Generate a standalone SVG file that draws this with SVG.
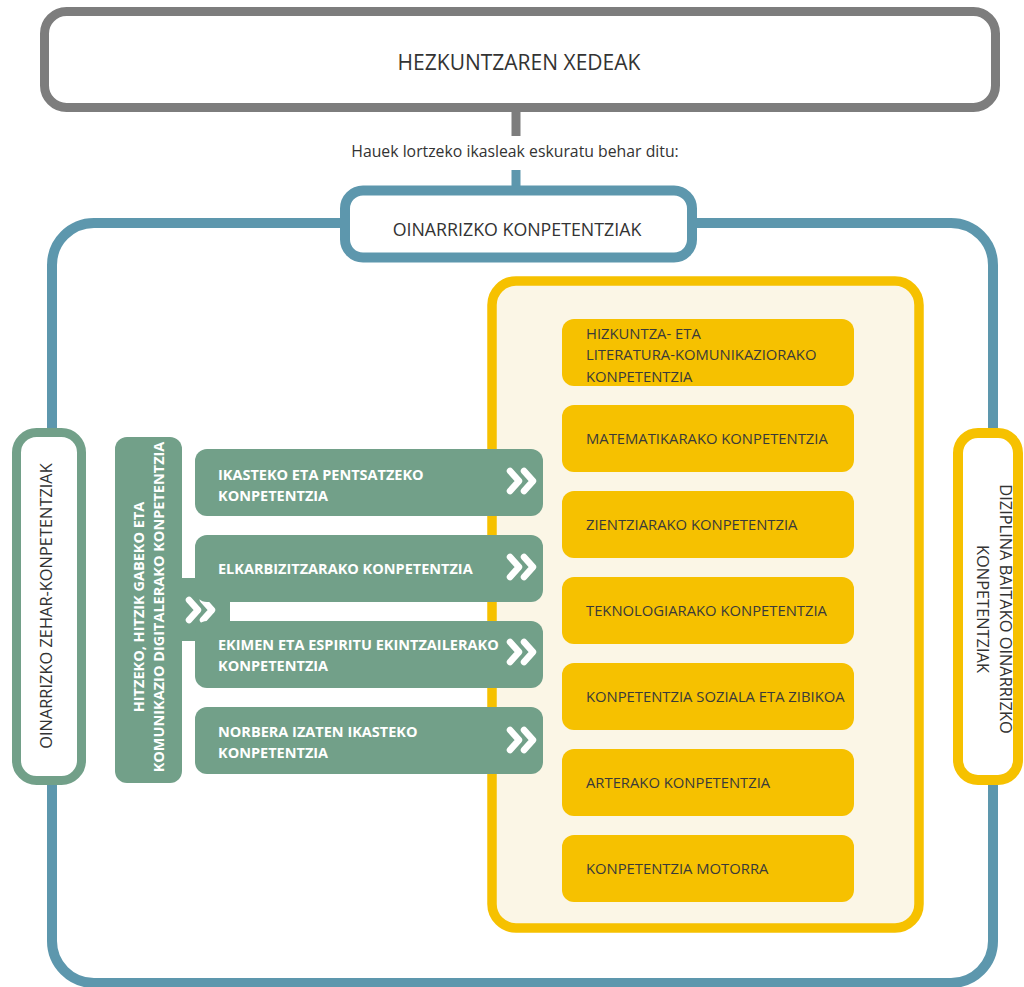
<svg xmlns="http://www.w3.org/2000/svg" width="1024" height="987" viewBox="0 0 1024 987">
<style>
.t{font-family:"Open Sans","Liberation Sans",sans-serif;fill:#333333}
.w{font-family:"Open Sans","Liberation Sans",sans-serif;fill:#ffffff;font-weight:bold;font-size:14.5px}
.y{font-family:"Open Sans","Liberation Sans",sans-serif;fill:#3a3a3a;font-size:14.8px}
.yi{fill:#f6c100}
.gr{fill:#72a089}
.side{font-size:16.4px}
</style>
<defs>
<g id="chev"><path d="M-12,-10 L-3,0 L-12,10 M2,-10 L11,0 L2,10" fill="none" stroke="#ffffff" stroke-width="6.5" stroke-linecap="round" stroke-linejoin="round"/></g>
</defs>
<rect width="1024" height="987" fill="#ffffff"/>
<g id="frame-blue">
<rect x="52" y="223" width="941" height="760" rx="42" fill="none" stroke="#5d97ad" stroke-width="10"/>
</g>
<g id="connectors">
<line x1="516" y1="111" x2="516" y2="136" stroke="#7d7d7d" stroke-width="9"/>
<line x1="516" y1="170" x2="516" y2="188" stroke="#5d97ad" stroke-width="9"/>
<rect x="175" y="578" width="55" height="63" class="gr"/>
</g>
<g id="hezkuntza">
<rect x="44.5" y="11.5" width="951" height="96" rx="22" fill="#ffffff" stroke="#7d7d7d" stroke-width="9"/>
<text x="519" y="70" class="t" font-size="21" text-anchor="middle">HEZKUNTZAREN XEDEAK</text>
</g>
<g id="label-hauek">
<text x="515" y="157" class="t" font-size="15.8" text-anchor="middle">Hauek lortzeko ikasleak eskuratu behar ditu:</text>
</g>
<g id="oinarrizko">
<rect x="345" y="190.5" width="347" height="67" rx="18" fill="#ffffff" stroke="#5d97ad" stroke-width="10"/>
<text x="517" y="236" class="t" font-size="17.8" text-anchor="middle">OINARRIZKO KONPETENTZIAK</text>
</g>
<g id="zehar">
<rect x="16.5" y="432.5" width="65" height="348" rx="20" fill="#ffffff" stroke="#72a089" stroke-width="9"/>
<text transform="translate(52,606) rotate(-90)" class="t side" text-anchor="middle">OINARRIZKO ZEHAR-KONPETENTZIAK</text>
</g>
<g id="diziplina">
<rect x="958" y="433" width="60" height="347" rx="20" fill="#ffffff" stroke="#f6c100" stroke-width="10"/>
<text transform="translate(1000,609) rotate(90)" class="t side" text-anchor="middle">DIZIPLINA BAITAKO OINARRIZKO</text>
<text transform="translate(977,609) rotate(90)" class="t side" text-anchor="middle">KONPETENTZIAK</text>
</g>
<g id="diziplina-frame">
<rect x="492" y="281" width="427" height="647" rx="24" fill="#fbf6e6" stroke="#f6c100" stroke-width="9.5"/>
</g>
<g id="y1"><rect x="562" y="319" width="292" height="67" rx="12" class="yi"/>
<text x="586" y="339" class="y">HIZKUNTZA- ETA</text>
<text x="586" y="360" class="y">LITERATURA-KOMUNIKAZIORAKO</text>
<text x="586" y="382" class="y">KONPETENTZIA</text></g>
<g id="y2"><rect x="562" y="405" width="292" height="67" rx="12" class="yi"/>
<text x="586" y="444" class="y">MATEMATIKARAKO KONPETENTZIA</text></g>
<g id="y3"><rect x="562" y="491" width="292" height="67" rx="12" class="yi"/>
<text x="586" y="530" class="y">ZIENTZIARAKO KONPETENTZIA</text></g>
<g id="y4"><rect x="562" y="577" width="292" height="67" rx="12" class="yi"/>
<text x="586" y="616" class="y">TEKNOLOGIARAKO KONPETENTZIA</text></g>
<g id="y5"><rect x="562" y="663" width="292" height="67" rx="12" class="yi"/>
<text x="586" y="702" class="y">KONPETENTZIA SOZIALA ETA ZIBIKOA</text></g>
<g id="y6"><rect x="562" y="749" width="292" height="67" rx="12" class="yi"/>
<text x="586" y="788" class="y">ARTERAKO KONPETENTZIA</text></g>
<g id="y7"><rect x="562" y="835" width="292" height="67" rx="12" class="yi"/>
<text x="586" y="874" class="y">KONPETENTZIA MOTORRA</text></g>
<g id="hitzezko">
<rect x="115" y="437" width="67" height="346" rx="12" class="gr"/>
<text transform="translate(144,607) rotate(-90)" class="w" text-anchor="middle">HITZEKO, HITZIK GABEKO ETA</text>
<text transform="translate(164,607) rotate(-90)" class="w" text-anchor="middle">KOMUNIKAZIO DIGITALERAKO KONPETENTZIA</text>
<use href="#chev" x="201" y="610"/>
</g>
<g id="g1"><rect x="195" y="449" width="348" height="67" rx="12" class="gr"/>
<text x="218" y="480" class="w">IKASTEKO ETA PENTSATZEKO</text>
<text x="218" y="501" class="w">KONPETENTZIA</text>
<use href="#chev" x="522" y="481"/></g>
<g id="g2"><rect x="195" y="535" width="348" height="67" rx="12" class="gr"/>
<text x="218" y="574" class="w">ELKARBIZITZARAKO KONPETENTZIA</text>
<use href="#chev" x="522" y="567"/></g>
<g id="g3"><rect x="195" y="621" width="348" height="67" rx="12" class="gr"/>
<text x="218" y="650" class="w">EKIMEN ETA ESPIRITU EKINTZAILERAKO</text>
<text x="218" y="671" class="w">KONPETENTZIA</text>
<use href="#chev" x="522" y="652"/></g>
<g id="g4"><rect x="195" y="707" width="348" height="67" rx="12" class="gr"/>
<text x="218" y="737" class="w">NORBERA IZATEN IKASTEKO</text>
<text x="218" y="758" class="w">KONPETENTZIA</text>
<use href="#chev" x="522" y="740"/></g>
</svg>
